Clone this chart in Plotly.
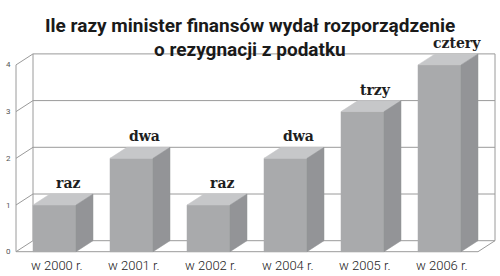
import plotly.graph_objects as go

categories = ["w 2000 r.", "w 2001 r.", "w 2002 r.", "w 2004 r.", "w 2005 r.", "w 2006 r."]
values = [1, 2, 1, 2, 3, 4]
value_labels = ["raz", "dwa", "raz", "dwa", "trzy", "cztery"]
tick_values = [0, 1, 2, 3, 4]
title_lines = ["Ile razy minister finansów wydał rozporządzenie", "o rezygnacji z podatku"]

# geometry (pixel-like x units, value y units)
W, H = 500, 276
PX_PER_UNIT = 46.7
Y0_PX = 251.7
y_lo = (Y0_PX - H) / PX_PER_UNIT
y_hi = Y0_PX / PX_PER_UNIT
DX = 17.0
DY = 11.0 / PX_PER_UNIT
LEFT = 16.0
SLOT = 77.0
BAR_W = 43.0
YMAX = 4

FRONT = "#a9aaac"
TOP = "#c6c7c9"
SIDE = "#939497"
GRID = "#9a9a9a"

fig = go.Figure()

def line(xs, ys, color=GRID, width=1):
    fig.add_trace(go.Scatter(x=xs, y=ys, mode="lines", line=dict(color=color, width=width),
                             hoverinfo="skip", showlegend=False))

def poly(xs, ys, color):
    fig.add_trace(go.Scatter(x=xs + [xs[0]], y=ys + [ys[0]], mode="lines", fill="toself",
                             fillcolor=color, line=dict(color=color, width=0.5),
                             hoverinfo="skip", showlegend=False))

right_front = LEFT + SLOT * len(categories)
# back wall gridlines
for v in tick_values:
    line([LEFT + DX, right_front + DX], [v + DY, v + DY])
    line([LEFT, LEFT + DX], [v, v + DY])
line([LEFT, LEFT], [0, YMAX])
line([LEFT + DX, LEFT + DX], [DY, YMAX + DY])
line([right_front + DX, right_front + DX], [DY, YMAX + DY])
# floor
line([LEFT, right_front], [0, 0])
line([right_front, right_front + DX], [0, DY])

# bars
for i, v in enumerate(values):
    x0 = LEFT + SLOT * i + (SLOT - BAR_W) / 2
    x1 = x0 + BAR_W
    poly([x0, x1, x1, x0], [0, 0, v, v], FRONT)
    poly([x0, x1, x1 + DX, x0 + DX], [v, v, v + DY, v + DY], TOP)
    poly([x1, x1 + DX, x1 + DX, x1], [0, DY, v + DY, v], SIDE)

annotations = []
for i, (v, lab) in enumerate(zip(values, value_labels)):
    xc = LEFT + SLOT * i + SLOT / 2
    annotations.append(dict(x=xc + 13 + (4 if v == 4 else 0), y=v + DY + 11 / PX_PER_UNIT,
                            text="<b>" + lab + "</b>", showarrow=False,
                            xref="x", yref="y",
                            font=dict(family="DejaVu Serif", size=14, color="#1e1e1e")))
    annotations.append(dict(x=xc + 2, y=(Y0_PX - 265) / PX_PER_UNIT, text=categories[i], showarrow=False,
                            xref="x", yref="y",
                            font=dict(family="Roboto", size=13, weight=300, color="#222222")))
for v in tick_values:
    annotations.append(dict(x=8, y=v, text=str(v), showarrow=False, xref="x", yref="y",
                            font=dict(family="Roboto", size=8, color="#555555")))
annotations.append(dict(x=250, y=1 - 12 / H, text="<b>" + title_lines[0] + "</b>", showarrow=False,
                        xref="x", yref="paper", font=dict(family="Roboto", size=19, color="#1a1a1a")))
annotations.append(dict(x=250, y=1 - 36 / H, text="<b>" + title_lines[1] + "</b>", showarrow=False,
                        xref="x", yref="paper", font=dict(family="Roboto", size=19, color="#1a1a1a")))

fig.update_layout(
    width=W, height=H, margin=dict(l=0, r=0, t=0, b=0),
    paper_bgcolor="white", plot_bgcolor="white",
    xaxis=dict(range=[0, W], visible=False, fixedrange=True),
    yaxis=dict(range=[y_lo, y_hi], visible=False, fixedrange=True),
    annotations=annotations, showlegend=False,
)
fig.write_html("out.html")
